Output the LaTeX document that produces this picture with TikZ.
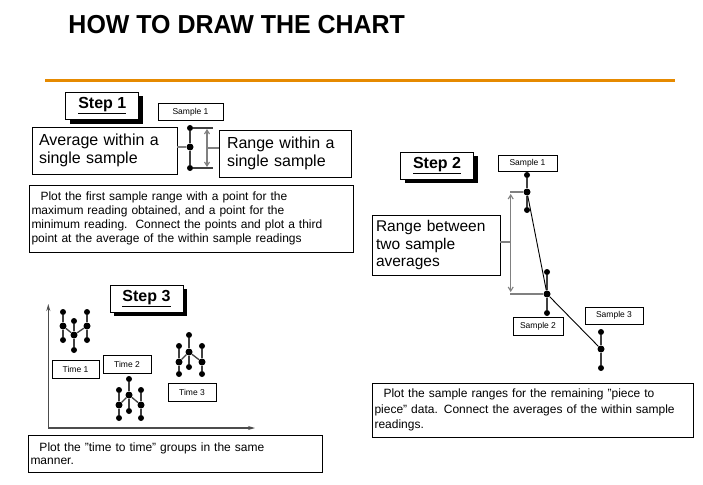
\documentclass[tikz,border=0pt]{standalone}
\usepackage{fontspec}
\setmainfont{Liberation Sans}
\usetikzlibrary{arrows.meta,shadows}
\definecolor{orangeline}{HTML}{E68A00}
\definecolor{leadgray}{HTML}{808080}
\newcommand{\dotcol}[5]{%
  \node[dotp] (#1t) at (#2,#3) {};
  \node[avgdot] (#1m) at (#2,#4) {};
  \node[dotp] (#1b) at (#2,#5) {};
  \draw[stemline] (#1t) -- (#1m) -- (#1b);
}
\begin{document}
\begin{tikzpicture}[x=1pt,y=-1pt,
  box/.style={draw=black, line width=0.8pt, fill=white, inner sep=0pt, outer sep=0pt},
  stepbox/.style={box, line width=0.9pt, drop shadow={shadow xshift=4pt, shadow yshift=-4pt, fill=black, opacity=1}, font=\fontsize{16}{19}\selectfont\bfseries, minimum width=73pt, minimum height=27pt},
  samplebox/.style={box, font=\fontsize{8.5}{10}\selectfont, minimum height=17pt},
  bigtext/.style={box, font=\fontsize{16}{18.5}\selectfont, align=left},
  parabox/.style={box, font=\fontsize{12}{14}\selectfont, align=left, inner xsep=2.5pt},
  dotp/.style={circle, fill=black, inner sep=0pt, minimum size=6pt},
  avgdot/.style={dotp, minimum size=7pt},
  leader/.style={draw=leadgray, line width=1.1pt},
  stemline/.style={draw=black!75, line width=1.3pt},
  linkline/.style={draw=black, line width=0.9pt},
  rangearrow/.style={draw=leadgray, line width=1.1pt, {Straight Barb[length=4pt,width=5pt]}-{Straight Barb[length=4pt,width=5pt]}},
  axisline/.style={draw=black!70, line width=1.1pt, -{Stealth[length=7pt,width=4pt]}}
]
\useasboundingbox (0,0) rectangle (703,484);
\fill[white] (0,0) rectangle (703,484);

% title and rule
\node[anchor=base west, inner sep=0pt, xscale=0.96, font=\fontsize{26}{30}\selectfont\bfseries] (title) at (68.3,33.3) {HOW TO DRAW THE CHART};
\coordinate (ruleL) at (45,80.5);
\coordinate (ruleR) at (675,80.5);
\draw[orangeline, line width=3.5pt] (ruleL) -- (ruleR);

% ---------- Step 1 ----------
\node[stepbox] (step1) at (102.3,106) {\underline{Step 1}};
\node[samplebox, minimum width=65pt] (s1label) at (190.5,112) {Sample 1};
\node[bigtext, minimum width=145pt, minimum height=47pt, text width=131pt, inner xsep=7pt] (avgbox) at (104.5,150.5) {Average within a\\single sample};
\node[bigtext, minimum width=132pt, minimum height=47pt, text width=116pt, inner xsep=8pt] (rngbox) at (285,153.5) {Range within a\\single sample};
\node[parabox, minimum width=324pt, minimum height=67pt, text width=319pt] (para1) at (191,218.5) {\hspace*{9pt}Plot the first sample range with a point for the\\maximum reading obtained, and a point for the\\minimum reading.\ \ Connect the points and plot a third\\point at the average of the within sample readings};

\dotcol{a}{190}{128}{147}{168}
\coordinate (aTopEnd) at (213,128);
\coordinate (aBotEnd) at (213,168);
\coordinate (aArrTop) at (207,129);
\coordinate (aArrBot) at (207,167);
\coordinate (aArrMid) at (207,148);
\draw[leader] (avgbox.east |- am) -- (am);
\draw[stemline] (at) -- (aTopEnd);
\draw[stemline] (ab) -- (aBotEnd);
\draw[rangearrow] (aArrTop) -- (aArrBot);
\draw[leader] (aArrMid) -- (rngbox.west |- aArrMid);

% ---------- Step 2 ----------
\node[stepbox] (step2) at (437,165.5) {\underline{Step 2}};
\node[samplebox, minimum width=59pt, minimum height=16pt] (s2l1) at (527.5,163) {Sample 1};
\node[samplebox, minimum width=50pt, minimum height=18pt] (s2l2) at (538,326) {Sample 2};
\node[samplebox, minimum width=58pt] (s2l3) at (614,315.5) {Sample 3};
\node[bigtext, minimum width=128pt, minimum height=60pt, text width=120pt, inner xsep=4pt, font=\fontsize{15.5}{17.5}\selectfont] (betbox) at (436,245) {Range between\\two sample\\averages};
\node[parabox, minimum width=321pt, minimum height=54pt, text width=316pt, font=\fontsize{12}{15.5}\selectfont] (para2) at (532.5,410) {\hspace*{9pt}Plot the sample ranges for the remaining "piece to\\piece" data. Connect the averages of the within sample\\readings.};

\dotcol{p}{527}{175}{192}{210}
\dotcol{q}{547}{272}{294}{313}
\dotcol{r}{601}{332}{349}{368}
\draw[linkline] (pm) -- (qm) -- (rm);
\coordinate (bLeadTop) at (510,192);
\coordinate (bLeadBot) at (510,294);
\coordinate (bArrTop) at (510.7,194);
\coordinate (bArrBot) at (510.7,292);
\coordinate (bArrMid) at (510.7,242);
\draw[leader] (bLeadTop) -- (pm);
\draw[leader] (bLeadBot) -- (qm);
\draw[rangearrow] (bArrTop) -- (bArrBot);
\draw[leader] (betbox.east |- bArrMid) -- (bArrMid);

% ---------- Step 3 ----------
\node[stepbox] (step3) at (146.5,298.5) {\underline{Step 3}};
\coordinate (origin) at (48.3,428);
\coordinate (ytop) at (48.3,304);
\coordinate (xend) at (255,428);
\draw[axisline] (origin) -- (ytop);
\draw[axisline] (origin) -- (xend);

\node[samplebox, minimum width=47pt, minimum height=18pt] (t1) at (75.5,369) {Time 1};
\node[samplebox, minimum width=48pt, minimum height=18pt] (t2) at (127,364) {Time 2};
\node[samplebox, minimum width=48pt, minimum height=18pt] (t3) at (192,392) {Time 3};

\dotcol{ua}{63}{312}{326}{340}
\dotcol{ub}{74}{321}{335}{350}
\dotcol{uc}{87}{312}{326}{340}
\draw[stemline] (uam) -- (ubm) -- (ucm);

\dotcol{va}{119}{390}{405}{418}
\dotcol{vb}{129}{379}{395}{411}
\dotcol{vc}{141}{390}{405}{418}
\draw[stemline] (vam) -- (vbm) -- (vcm);

\dotcol{wa}{179}{346}{362}{374}
\dotcol{wb}{189}{335}{352}{367}
\dotcol{wc}{202}{346}{362}{374}
\draw[stemline] (wam) -- (wbm) -- (wcm);

\node[parabox, minimum width=294pt, minimum height=37pt, text width=289pt, font=\fontsize{12}{13.5}\selectfont] (para3) at (175,453.5) {\hspace*{9pt}Plot the "time to time" groups in the same\\manner.};
\end{tikzpicture}
\end{document}
